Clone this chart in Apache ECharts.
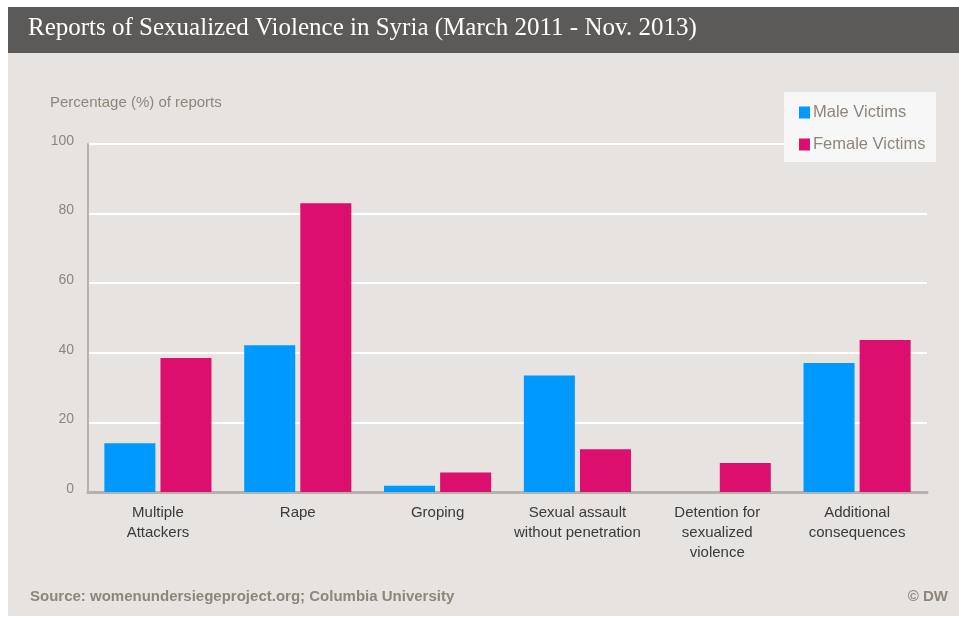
<!DOCTYPE html>
<html>
<head>
<meta charset="utf-8">
<script src="https://cdn.jsdelivr.net/npm/echarts@6/dist/echarts.min.js"></script>
<style>
html,body{margin:0;padding:0;background:#ffffff;}
#chart{width:959px;height:621px;}
</style>
</head>
<body>
<div id="chart"></div>
<script>
const categories = ['Multiple\nAttackers', 'Rape', 'Groping', 'Sexual assault\nwithout penetration', 'Detention for\nsexualized\nviolence', 'Additional\nconsequences'];
const maleVictims = [14, 42.2, 1.8, 33.5, 0, 37.1];
const femaleVictims = [38.5, 83, 5.6, 12.3, 8.3, 43.7];
const yTicks = [0, 20, 40, 60, 80, 100];

const chart = echarts.init(document.getElementById('chart'), null, {renderer: 'canvas'});
const gray = '#8e867b';
const sans = '"Liberation Sans", Arial, sans-serif';
chart.setOption({
  backgroundColor: '#ffffff',
  animation: false,
  graphic: [
    {type: 'rect', z: -10, shape: {x: 8, y: 7, width: 951, height: 609}, style: {fill: '#e6e3e0'}},
    {type: 'rect', z: -9, shape: {x: 8, y: 7, width: 951, height: 46}, style: {fill: '#5b5a58'}},
    {type: 'text', left: 28, top: 16, style: {text: 'Reports of Sexualized Violence in Syria (March 2011 - Nov. 2013)', fill: '#ffffff', font: '25px "Liberation Serif", serif'}},
    {type: 'text', left: 50, top: 95, style: {text: 'Percentage (%) of reports', fill: gray, font: '15px ' + sans}},
    {type: 'text', left: 30, top: 589, style: {text: 'Source: womenundersiegeproject.org; Columbia University', fill: gray, font: 'bold 15px ' + sans}},
    {type: 'text', right: 11, top: 589, style: {text: '© DW', fill: gray, font: 'bold 15px ' + sans}},
    {type: 'rect', z: 5, shape: {x: 784, y: 92, width: 152, height: 70}, style: {fill: '#f7f7f7'}}
  ],
  legend: {
    z: 10,
    orient: 'vertical',
    left: 794,
    top: 99,
    itemWidth: 11,
    itemHeight: 12,
    itemGap: 15,
    icon: 'rect',
    textStyle: {color: gray, fontSize: 16.5, fontFamily: sans, padding: [0, 0, 0, -2]},
    data: ['Male Victims', 'Female Victims']
  },
  grid: {left: 88, right: 32, top: 144, bottom: 129, containLabel: false},
  xAxis: {
    type: 'category',
    data: categories,
    axisLine: {lineStyle: {color: '#b5b1ab', width: 3}},
    axisTick: {show: false},
    axisLabel: {color: '#3a3a3a', fontSize: 15, lineHeight: 20, margin: 11, interval: 0, fontFamily: sans}
  },
  yAxis: {
    type: 'value',
    min: yTicks[0],
    max: yTicks[yTicks.length - 1],
    interval: 20,
    axisLine: {show: true, lineStyle: {color: '#b5b1ab', width: 2}},
    axisTick: {show: false},
    axisLabel: {color: gray, fontSize: 14, margin: 14, fontFamily: sans, verticalAlign: 'bottom', lineHeight: 6},
    splitLine: {lineStyle: {color: '#ffffff', width: 2}}
  },
  series: [
    {name: 'Male Victims', type: 'bar', data: maleVictims, barWidth: 51, barGap: '10%', itemStyle: {color: '#0099ff'}},
    {name: 'Female Victims', type: 'bar', data: femaleVictims, barWidth: 51, barGap: '10%', itemStyle: {color: '#dc0e6e'}}
  ]
});
</script>
</body>
</html>
